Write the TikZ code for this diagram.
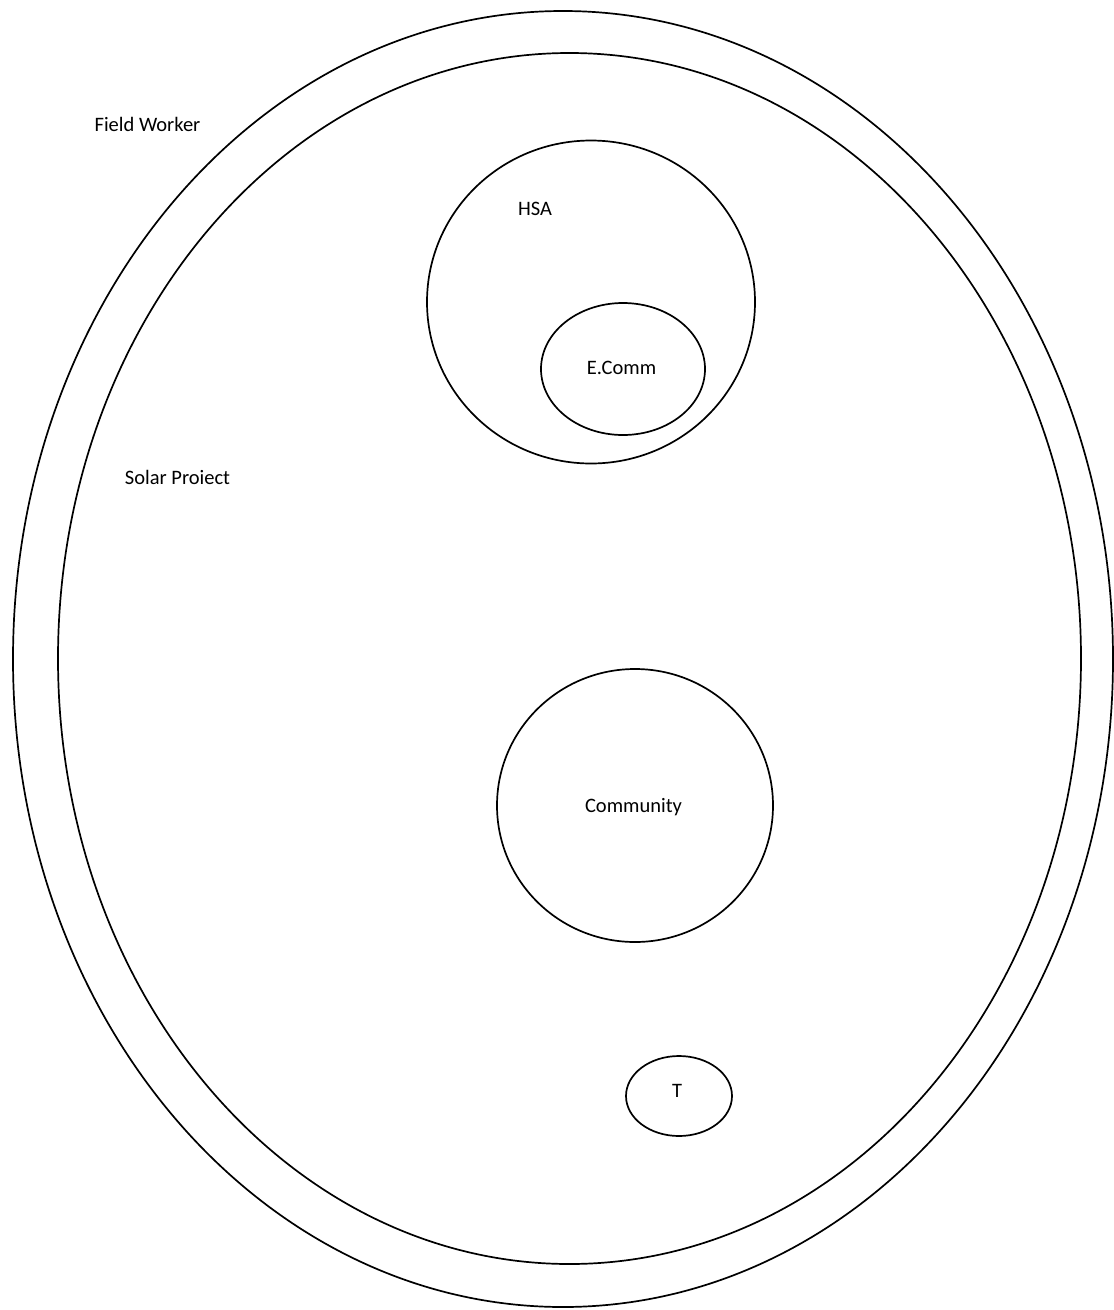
\documentclass[tikz,border=0pt]{standalone}
\usepackage{fontspec}
\setmainfont{Carlito}
\usetikzlibrary{shapes.geometric}
\begin{document}
\begin{tikzpicture}[x=1pt,y=-1pt,
  ring/.style={draw=black,line width=1.7pt,ellipse,inner sep=0pt,outer sep=0pt},
  lbl/.style={font=\fontsize{20.5}{24}\selectfont,text=black,inner sep=0pt}]
\useasboundingbox (0,0) rectangle (1114,1310);
\node[ring,minimum width=1100pt,minimum height=1296pt] (fw) at (563,659) {};
\node[ring,minimum width=1023pt,minimum height=1211pt] (sp) at (569.5,658.5) {};
\node[ring,minimum width=328pt,minimum height=323pt] (hsa) at (591,302) {};
\node[ring,minimum width=164pt,minimum height=132pt] (ec) at (623,369) {};
\node[ring,minimum width=276pt,minimum height=273pt] (com) at (635,805.5) {};
\node[ring,minimum width=106pt,minimum height=80pt] (t) at (679,1096) {};
\node[lbl] (fwl) at (147.5,124) {Field Worker};
\node[lbl] (spl) at (177.5,477) {Solar Proiect};
\node[lbl] (hsal) at (535,209) {HSA};
\node[lbl] (ecl) at (621.5,368) {E.Comm};
\node[lbl] (coml) at (633.5,807) {Community};
\node[lbl] (tl) at (677,1091) {T};
\end{tikzpicture}
\end{document}
